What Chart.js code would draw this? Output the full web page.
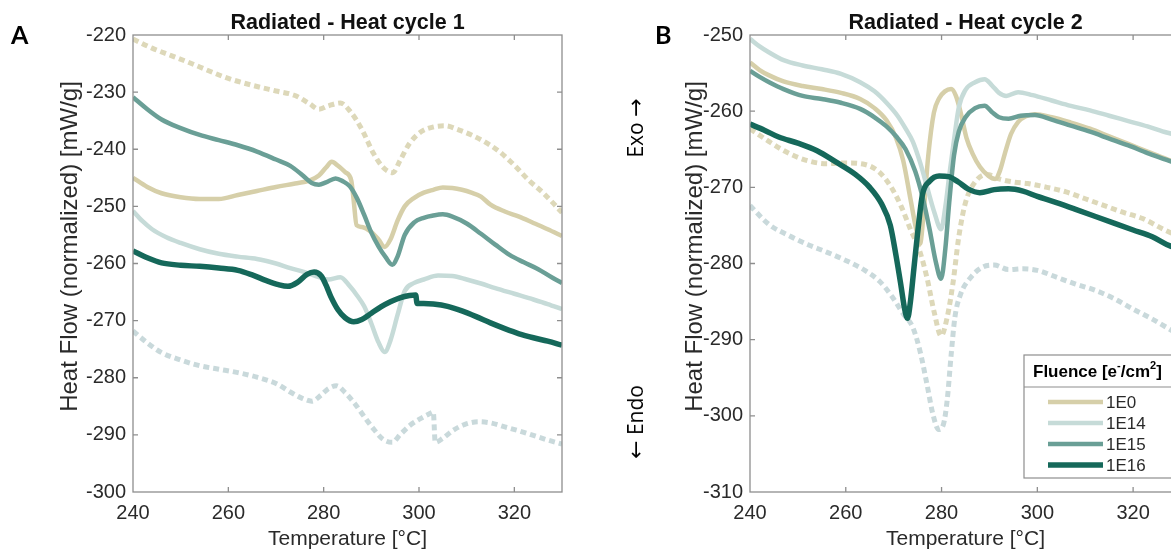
<!DOCTYPE html>
<html>
<head>
<meta charset="utf-8">
<title>Heat flow</title>
<script src="https://cdn.jsdelivr.net/npm/chart.js@4.4.1/dist/chart.umd.min.js"></script>
<style>
html,body{margin:0;padding:0;background:#fff;}
body{width:1171px;height:550px;overflow:hidden;position:relative;}
.panel{position:absolute;top:0;width:600px;height:550px;}
#panelA{left:0;}
#panelB{left:600px;}
.letter{position:absolute;font-family:Lato,"Open Sans",sans-serif;font-weight:bold;font-size:25px;line-height:1;color:#000;}
.side{position:absolute;font-family:"Open Sans",sans-serif;font-size:21px;line-height:1;white-space:nowrap;color:#000;transform:translate(-50%,-50%) rotate(-90deg);}
.side .arrow{font-family:"DejaVu Sans",sans-serif;font-size:22px;}
</style>
</head>
<body>

<div class="panel" id="panelA"><canvas id="chartA"></canvas></div>
<div class="panel" id="panelB"><canvas id="chartB"></canvas></div>

<div class="letter" style="left:11px;top:22px;">A</div>
<div class="letter" style="left:655px;top:22px;">B</div>
<div class="side" style="left:636px;top:128px;">Exo <span class="arrow">→</span></div>
<div class="side" style="left:636px;top:422px;"><span class="arrow">←</span> Endo</div>

<script>

/* =========================
DATA - heat cycle 1
========================= */

const fluences = ["1E0","1E14","1E15","1E16"];

const tempA_1E0 = [240,243,246,250,254,258,262,266,270,274,277,279,280.5,281.7,283,284.5,285.8,286.3,286.9,288,290,291.5,292.8,294,295.5,297,299,301,303,305,307,309,311,313,315,318,321,324,327,330];
const flowA_1E0 = [-245.0,-246.6,-247.7,-248.4,-248.7,-248.7,-248.0,-247.3,-246.6,-246.0,-245.5,-244.6,-243.2,-242.2,-242.9,-244.0,-245.5,-249.0,-253.3,-253.6,-254.5,-255.8,-257.1,-255.8,-252.5,-250.0,-248.5,-247.6,-247.1,-246.7,-246.8,-247.1,-247.6,-248.3,-249.7,-250.9,-251.8,-252.9,-254.0,-255.2];

const tempA_1E14 = [240,242,244,247,250,254,258,262,266,270,273,276,279,281,283.5,285.5,287,288.5,290,291.5,292.8,294,295.5,297,299,301,304,307,310,313,316,320,324,327,330];
const flowA_1E14 = [-250.8,-252.6,-254.0,-255.4,-256.4,-257.5,-258.3,-258.8,-259.2,-260.0,-260.8,-261.5,-262.4,-262.8,-262.4,-264.0,-265.6,-267.5,-270.5,-273.8,-275.5,-273.5,-269.0,-264.8,-263.4,-262.8,-262.1,-262.2,-262.8,-263.5,-264.3,-265.3,-266.3,-267.1,-268.0];

const tempA_1E15 = [240,243,246,250,254,258,262,266,270,273,275.5,277.5,279,280.5,282.5,284,285.5,287,288.5,290,291.5,293,294.4,295.5,297,299,301,303,305,307,310,313,316,319,322,325,328,330];
const flowA_1E15 = [-230.9,-233.0,-234.8,-236.3,-237.5,-238.4,-239.3,-240.4,-241.8,-242.9,-244.5,-245.9,-246.2,-245.8,-245.1,-245.6,-246.5,-248.6,-251.5,-254.6,-257.0,-258.9,-260.2,-258.8,-255.0,-252.8,-252.0,-251.6,-251.4,-251.8,-253.0,-254.8,-256.7,-258.5,-259.8,-261.0,-262.5,-263.4];

const tempA_1E16 = [240,243,246,250,254,258,262,265,268,270.5,272.5,274.5,276.5,278,279.5,280.5,281.5,283,284.5,286.3,288,290,292,294,296,298,299.3,299.6,301,303,306,309,312,315,318,321,324,327,330];
const flowA_1E16 = [-257.8,-259.0,-259.9,-260.3,-260.5,-260.8,-261.2,-262.0,-263.0,-263.7,-264.0,-263.3,-261.9,-261.5,-262.2,-263.8,-265.8,-268.1,-269.5,-270.2,-269.8,-268.7,-267.6,-266.7,-266.0,-265.6,-265.5,-267.0,-267.0,-267.1,-267.5,-268.3,-269.3,-270.4,-271.4,-272.3,-273.0,-273.6,-274.3];

// dotted reference runs
const tempA_1E0_dot = [240,244,248,252,256,260,265,270,274,277,279,281,283.5,285.5,288,290.5,292.5,294.5,296,298,300.5,303,305.5,308,311,314,317,320,323,326,328,330];
const flowA_1E0_dot = [-220.7,-222.3,-223.6,-224.9,-226.3,-227.6,-228.8,-229.8,-230.6,-232.0,-233.0,-232.4,-231.9,-233.3,-236.5,-240.8,-243.2,-244.1,-242.0,-239.0,-236.9,-236.1,-235.9,-236.5,-237.5,-238.8,-240.5,-242.8,-245.4,-247.6,-249.3,-251.1];

const tempA_1E14_dot = [240,243,246,250,254,258,262,266,270,273,275.5,277.5,279.5,281,282.7,284.5,286.5,288.5,290.5,292.5,294.4,296,298,300,302,303,303.4,305,307,309.5,312.5,315,318,321,324,327,330];
const flowA_1E14_dot = [-271.8,-273.9,-275.6,-276.9,-277.9,-278.5,-279.1,-279.9,-281.0,-282.5,-283.6,-284.1,-283.0,-281.9,-281.4,-282.6,-284.5,-286.8,-289.0,-290.8,-291.3,-290.0,-288.4,-287.3,-286.4,-286.0,-291.3,-290.6,-289.3,-288.2,-287.7,-287.9,-288.6,-289.3,-290.1,-290.9,-291.6];

/* =========================
DATA - heat cycle 2
========================= */

const tempB_1E0 = [240,242,244,247,251,255,259,263,266,268.5,270.5,272,273.5,274.7,275.5,276.3,277.2,278.4,279.5,280.7,282,283,284,285.2,286.5,288,289.8,291.2,292.2,293.2,294.5,296,297.5,299.5,303,307,311,315,319,323,327,330];
const flowB_1E0 = [-253.6,-254.6,-255.3,-256.1,-256.7,-257.1,-257.6,-258.4,-259.6,-261.2,-263.5,-266.5,-271.5,-275.5,-277.4,-273.0,-266.0,-260.2,-258.3,-257.4,-257.1,-258.0,-260.2,-263.5,-265.6,-267.3,-268.5,-268.9,-267.8,-265.6,-263.0,-261.4,-260.7,-260.4,-260.8,-261.5,-262.3,-263.3,-264.3,-265.3,-266.3,-267.0];

const tempB_1E14 = [240,242,244,247,251,255,259,263,266,268.5,270.8,272.5,274,275.5,277,278.5,279.9,280.8,281.7,282.6,283.6,285,287,289,290.5,292,293.5,296,299,303,307,311,315,319,323,327,330];
const flowB_1E14 = [-250.5,-251.5,-252.3,-253.3,-254.0,-254.5,-255.1,-256.2,-257.4,-258.9,-260.6,-262.3,-264.0,-266.7,-270.0,-273.3,-275.5,-272.5,-268.0,-263.8,-259.5,-257.2,-256.2,-255.8,-256.6,-257.6,-258.0,-257.5,-257.9,-258.6,-259.3,-259.9,-260.6,-261.3,-262.0,-262.8,-263.3];

const tempB_1E15 = [240,242,244,247,251,255,259,263,266,268.5,270.5,272.5,274.5,276,277.5,278.7,279.9,280.8,281.6,282.6,283.6,285,287,289,290.5,292,294,296.5,299.5,303,307,311,315,319,323,327,330];
const flowB_1E15 = [-254.7,-255.5,-256.2,-257.1,-258.0,-258.4,-258.9,-259.7,-260.8,-262.0,-263.3,-265.0,-267.9,-271.2,-275.5,-279.5,-282.0,-278.0,-272.0,-265.8,-262.7,-260.8,-259.6,-259.3,-260.1,-260.8,-261.0,-260.6,-260.5,-261.1,-261.9,-262.7,-263.6,-264.5,-265.5,-266.4,-267.1];

const tempB_1E16 = [240,243,246,250,254,258,262,265,267.5,269.3,270.5,271.5,272.3,272.9,273.5,274.2,275,276,277.5,279.5,281.5,283.5,285.5,288,291,294,297,300,304,308,312,316,320,324,327,330];
const flowB_1E16 = [-261.7,-262.5,-263.4,-264.2,-265.2,-266.7,-268.3,-270.0,-272.2,-275.0,-279.0,-282.8,-286.0,-287.2,-285.0,-280.8,-276.0,-271.0,-269.2,-268.5,-268.6,-269.3,-270.2,-270.7,-270.3,-270.2,-270.5,-271.2,-272.0,-272.9,-273.8,-274.7,-275.6,-276.5,-277.5,-278.2];

const tempB_1E0_dot = [240,244,248,252,256,260,264,267,269.5,271.5,273.5,275.5,277,278.5,279.9,281.2,282.4,283.6,285,287,289.5,292,295,298,302,306,310,314,318,322,326,330];
const flowB_1E0_dot = [-262.3,-264.0,-265.5,-266.5,-266.9,-266.8,-267.0,-268.0,-270.0,-272.4,-275.5,-278.5,-282.0,-286.5,-289.5,-287.0,-282.5,-276.5,-272.0,-269.3,-268.3,-268.9,-269.3,-269.5,-270.0,-270.6,-271.5,-272.4,-273.3,-274.1,-275.4,-276.6];

const tempB_1E14_dot = [240,244,248,252,256,260,264,267,269.5,272,274,275.5,277,278.2,279.4,280.4,281.2,282,282.8,284,286,288.5,291,294,297,300,304,308,312,316,320,324,327,330];
const flowB_1E14_dot = [-272.4,-274.9,-276.3,-277.5,-278.5,-279.6,-280.9,-282.3,-284.2,-286.6,-288.4,-291.5,-296.0,-299.8,-301.8,-301.1,-297.8,-292.0,-287.0,-284.0,-281.9,-280.5,-280.2,-280.8,-280.7,-280.9,-281.8,-282.7,-283.5,-284.6,-286.0,-287.3,-288.4,-289.5];

/* =========================
STYLE
========================= */

const colors = {
  "1E0":"#d6cfa9",
  "1E14":"#c6dbd8",
  "1E15":"#6a9f96",
  "1E16":"#15685a"
};

const dotColors = {
  "1E0":"#ddd8b9",
  "1E14":"#c9d9db"
};

const widths = {"1E0":4.5,"1E14":4.5,"1E15":4.5,"1E16":5.5};

const axisFont = '"Liberation Sans", Arial, Helvetica, sans-serif';
const textGray = "#2a2a2a";

function pts(temps, flows){
  return temps.map((t,i) => ({x:t, y:flows[i]}));
}

function solid(name, temps, flows, order){
  return {
    label:name,
    data:pts(temps, flows),
    borderColor:colors[name],
    borderWidth:widths[name],
    order:order,
    inLegend:true
  };
}

function dotted(name, temps, flows, order){
  return {
    label:name + " dotted",
    data:pts(temps, flows),
    borderColor:dotColors[name],
    borderWidth:5,
    borderDash:[6,4],
    borderCapStyle:"butt",
    order:order
  };
}

/* =========================
PLUGINS
========================= */

// box around the axes with ticks pointing inward
const frameTicks = {
  id:"frameTicks",
  afterDatasetsDraw(chart){
    const {ctx, chartArea, scales} = chart;
    const {left, right, top, bottom} = chartArea;
    const len = 5;
    ctx.save();
    ctx.strokeStyle = "#8e8e8e";
    ctx.lineWidth = 1.3;
    ctx.beginPath();
    scales.x.ticks.forEach(t => {
      const px = scales.x.getPixelForValue(t.value);
      if(px <= left + 1 || px >= right - 1) return;
      ctx.moveTo(px, bottom); ctx.lineTo(px, bottom - len);
      ctx.moveTo(px, top); ctx.lineTo(px, top + len);
    });
    scales.y.ticks.forEach(t => {
      const py = scales.y.getPixelForValue(t.value);
      if(py <= top + 1 || py >= bottom - 1) return;
      ctx.moveTo(left, py); ctx.lineTo(left + len, py);
      ctx.moveTo(right, py); ctx.lineTo(right - len, py);
    });
    ctx.stroke();
    ctx.strokeRect(left, top, right - left, bottom - top);
    ctx.restore();
  }
};

// rotated y axis title, sitting a little above the axis middle
const sideTitle = {
  id:"sideTitle",
  afterDraw(chart, args, opts){
    const ctx = chart.ctx;
    const area = chart.chartArea;
    ctx.save();
    ctx.translate(opts.x, (area.top + area.bottom) / 2 + opts.shift);
    ctx.rotate(-Math.PI / 2);
    ctx.font = opts.size + "px " + axisFont;
    ctx.fillStyle = textGray;
    ctx.textAlign = "center";
    ctx.textBaseline = "middle";
    ctx.fillText(opts.text, 0, 0);
    ctx.restore();
  }
};

// boxed legend with title row
const fluenceLegend = {
  id:"fluenceLegend",
  afterDraw(chart){
    const ctx = chart.ctx;
    const area = chart.chartArea;
    const x0 = 424, x1 = area.right - 4;
    const y0 = 355, ySep = 387, y1 = 478;

    ctx.save();
    ctx.fillStyle = "#fff";
    ctx.fillRect(x0, y0, x1 - x0, y1 - y0);
    ctx.strokeStyle = "#8e8e8e";
    ctx.lineWidth = 1.2;
    ctx.strokeRect(x0, y0, x1 - x0, y1 - y0);
    ctx.beginPath();
    ctx.moveTo(x0, ySep);
    ctx.lineTo(x1, ySep);
    ctx.stroke();

    // title: Fluence [e-/cm2]
    ctx.fillStyle = "#000";
    ctx.textBaseline = "alphabetic";
    ctx.textAlign = "left";
    const big = "bold 17px " + axisFont;
    const small = "bold 11px " + axisFont;
    let tx = 433;
    const base = 377;
    const parts = [
      ["Fluence [e", big, 0],
      ["-", small, -8],
      ["/cm", big, 0],
      ["2", small, -8],
      ["]", big, 0]
    ];
    parts.forEach(p => {
      ctx.font = p[1];
      ctx.fillText(p[0], tx, base + p[2]);
      tx += ctx.measureText(p[0]).width;
    });

    // entries
    ctx.font = "17px " + axisFont;
    ctx.textBaseline = "middle";
    const rows = chart.data.datasets.filter(d => d.inLegend);
    fluences.forEach((name, i) => {
      const ds = rows.find(d => d.label === name);
      const y = 402 + i * 21;
      ctx.strokeStyle = ds.borderColor;
      ctx.lineWidth = ds.borderWidth;
      ctx.beginPath();
      ctx.moveTo(448, y);
      ctx.lineTo(503, y);
      ctx.stroke();
      ctx.fillStyle = textGray;
      ctx.fillText(name, 506, y + 1);
    });
    ctx.restore();
  }
};

/* =========================
CHART
========================= */

function makeChart(id, title, datasets, yMin, yMax, yAxisWidth, yTitleX, padRight, extra){
  return new Chart(document.getElementById(id),{
    type:"line",
    data:{datasets:datasets},
    options:{
      responsive:true,
      maintainAspectRatio:false,
      animation:false,
      layout:{padding:{left:0, right:padRight, top:0, bottom:0}},
      elements:{
        point:{radius:0},
        line:{cubicInterpolationMode:"monotone", fill:false}
      },
      plugins:{
        legend:{display:false},
        tooltip:{enabled:false},
        title:{
          display:true,
          text:title,
          fullSize:false,
          color:"#111",
          font:{family:axisFont, size:21.5, weight:"bold", lineHeight:1},
          padding:{top:12, bottom:1.5}
        },
        sideTitle:{
          text:"Heat Flow (normalized) [mW/g]",
          x:yTitleX,
          shift:-17,
          size:24
        }
      },
      scales:{
        x:{
          type:"linear",
          min:240,
          max:330,
          grid:{display:false, drawTicks:false},
          border:{display:false},
          ticks:{
            stepSize:20,
            includeBounds:false,
            padding:9,
            color:textGray,
            font:{family:axisFont, size:20}
          },
          title:{
            display:true,
            text:"Temperature [°C]",
            color:textGray,
            font:{family:axisFont, size:21, lineHeight:1},
            padding:{top:0, bottom:0}
          },
          afterFit(scale){ scale.height = 58; }
        },
        y:{
          min:yMin,
          max:yMax,
          grid:{display:false, drawTicks:false},
          border:{display:false},
          ticks:{
            stepSize:10,
            padding:7,
            color:textGray,
            font:{family:axisFont, size:20}
          },
          afterFit(scale){ scale.width = yAxisWidth; }
        }
      }
    },
    plugins:[frameTicks, sideTitle].concat(extra)
  });
}

const chartA = makeChart(
  "chartA",
  "Radiated - Heat cycle 1",
  [
    solid("1E16", tempA_1E16, flowA_1E16, 0),
    solid("1E15", tempA_1E15, flowA_1E15, 1),
    solid("1E14", tempA_1E14, flowA_1E14, 2),
    solid("1E0", tempA_1E0, flowA_1E0, 3),
    dotted("1E0", tempA_1E0_dot, flowA_1E0_dot, 4),
    dotted("1E14", tempA_1E14_dot, flowA_1E14_dot, 5)
  ],
  -300, -220, 133, 70, 38, []
);

const chartB = makeChart(
  "chartB",
  "Radiated - Heat cycle 2",
  [
    solid("1E16", tempB_1E16, flowB_1E16, 0),
    solid("1E15", tempB_1E15, flowB_1E15, 1),
    solid("1E14", tempB_1E14, flowB_1E14, 2),
    solid("1E0", tempB_1E0, flowB_1E0, 3),
    dotted("1E0", tempB_1E0_dot, flowB_1E0_dot, 4),
    dotted("1E14", tempB_1E14_dot, flowB_1E14_dot, 5)
  ],
  -310, -250, 150, 95, 19, [fluenceLegend]
);

</script>
</body>
</html>
